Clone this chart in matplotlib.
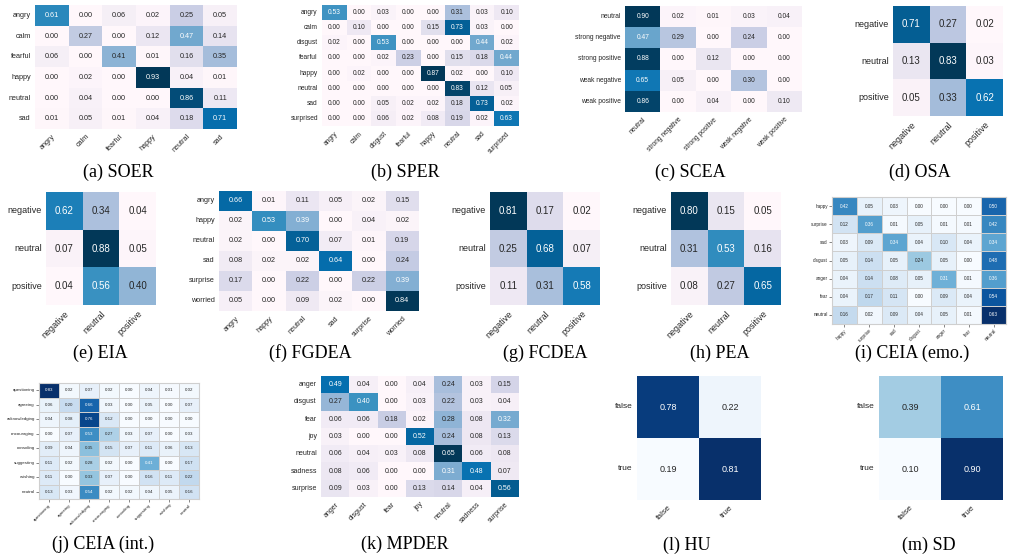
import numpy as np
import matplotlib
matplotlib.use("Agg")
import matplotlib.pyplot as plt
import seaborn as sns

plt.rcParams['font.family'] = ['Liberation Sans', 'DejaVu Sans']

# -----------------------------
# Data
# -----------------------------
soer_labels = ["angry", "calm", "fearful", "happy", "neutral", "sad"]
soer = [[0.61, 0.00, 0.06, 0.02, 0.25, 0.05],
        [0.00, 0.27, 0.00, 0.12, 0.47, 0.14],
        [0.06, 0.00, 0.41, 0.01, 0.16, 0.35],
        [0.00, 0.02, 0.00, 0.93, 0.04, 0.01],
        [0.00, 0.04, 0.00, 0.00, 0.86, 0.11],
        [0.01, 0.05, 0.01, 0.04, 0.18, 0.71]]

sper_labels = ["angry", "calm", "disgust", "fearful", "happy", "neutral", "sad", "surprised"]
sper = [[0.53, 0.00, 0.03, 0.00, 0.00, 0.31, 0.03, 0.10],
        [0.00, 0.10, 0.00, 0.00, 0.15, 0.73, 0.03, 0.00],
        [0.02, 0.00, 0.53, 0.00, 0.00, 0.00, 0.44, 0.02],
        [0.00, 0.00, 0.02, 0.23, 0.00, 0.15, 0.18, 0.44],
        [0.00, 0.02, 0.00, 0.00, 0.87, 0.02, 0.00, 0.10],
        [0.00, 0.00, 0.00, 0.00, 0.00, 0.83, 0.12, 0.05],
        [0.00, 0.00, 0.05, 0.02, 0.02, 0.18, 0.73, 0.02],
        [0.00, 0.00, 0.06, 0.02, 0.08, 0.19, 0.02, 0.63]]

scea_labels = ["neutral", "strong negative", "strong positive", "weak negative", "weak positive"]
scea = [[0.90, 0.02, 0.01, 0.03, 0.04],
        [0.47, 0.29, 0.00, 0.24, 0.00],
        [0.88, 0.00, 0.12, 0.00, 0.00],
        [0.65, 0.05, 0.00, 0.30, 0.00],
        [0.86, 0.00, 0.04, 0.00, 0.10]]

pol_labels = ["negative", "neutral", "positive"]
osa = [[0.71, 0.27, 0.02],
       [0.13, 0.83, 0.03],
       [0.05, 0.33, 0.62]]
eia = [[0.62, 0.34, 0.04],
       [0.07, 0.88, 0.05],
       [0.04, 0.56, 0.40]]
fcdea = [[0.81, 0.17, 0.02],
         [0.25, 0.68, 0.07],
         [0.11, 0.31, 0.58]]
pea = [[0.80, 0.15, 0.05],
       [0.31, 0.53, 0.16],
       [0.08, 0.27, 0.65]]

fgdea_labels = ["angry", "happy", "neutral", "sad", "surprise", "worried"]
fgdea = [[0.66, 0.01, 0.11, 0.05, 0.02, 0.15],
         [0.02, 0.53, 0.39, 0.00, 0.04, 0.02],
         [0.02, 0.00, 0.70, 0.07, 0.01, 0.19],
         [0.08, 0.02, 0.02, 0.64, 0.00, 0.24],
         [0.17, 0.00, 0.22, 0.00, 0.22, 0.39],
         [0.05, 0.00, 0.09, 0.02, 0.00, 0.84]]

ceia_emo_labels = ["happy", "surprise", "sad", "disgust", "anger", "fear", "neutral"]
ceia_emo = [[0.42, 0.05, 0.03, 0.00, 0.00, 0.00, 0.50],
            [0.12, 0.36, 0.01, 0.05, 0.01, 0.01, 0.42],
            [0.03, 0.09, 0.34, 0.04, 0.10, 0.04, 0.34],
            [0.05, 0.14, 0.05, 0.24, 0.05, 0.00, 0.48],
            [0.04, 0.14, 0.08, 0.05, 0.31, 0.01, 0.36],
            [0.04, 0.17, 0.11, 0.00, 0.09, 0.04, 0.54],
            [0.16, 0.02, 0.09, 0.04, 0.05, 0.01, 0.63]]

ceia_int_labels = ["questioning", "agreeing", "acknowledging", "encouraging",
                   "consoling", "suggesting", "wishing", "neutral"]
ceia_int = [[0.83, 0.02, 0.07, 0.02, 0.00, 0.04, 0.01, 0.02],
            [0.06, 0.20, 0.66, 0.03, 0.00, 0.05, 0.00, 0.07],
            [0.04, 0.08, 0.76, 0.12, 0.00, 0.00, 0.00, 0.00],
            [0.00, 0.07, 0.53, 0.27, 0.03, 0.07, 0.00, 0.03],
            [0.09, 0.04, 0.35, 0.15, 0.07, 0.11, 0.06, 0.13],
            [0.11, 0.02, 0.28, 0.02, 0.00, 0.41, 0.00, 0.17],
            [0.11, 0.00, 0.33, 0.07, 0.00, 0.16, 0.11, 0.22],
            [0.13, 0.03, 0.54, 0.02, 0.02, 0.04, 0.05, 0.16]]

mpder_labels = ["anger", "disgust", "fear", "joy", "neutral", "sadness", "surprise"]
mpder = [[0.49, 0.04, 0.00, 0.04, 0.24, 0.03, 0.15],
         [0.27, 0.40, 0.00, 0.03, 0.22, 0.03, 0.04],
         [0.06, 0.06, 0.18, 0.02, 0.28, 0.08, 0.32],
         [0.03, 0.00, 0.00, 0.52, 0.24, 0.08, 0.13],
         [0.06, 0.04, 0.03, 0.08, 0.65, 0.06, 0.08],
         [0.08, 0.06, 0.00, 0.00, 0.31, 0.48, 0.07],
         [0.09, 0.03, 0.00, 0.13, 0.14, 0.04, 0.56]]

bin_labels = ["false", "true"]
hu = [[0.78, 0.22],
      [0.19, 0.81]]
sd = [[0.39, 0.61],
      [0.10, 0.90]]

W, H = 1013, 559


# -----------------------------
# Helpers
# -----------------------------
def box(fig, x0, y0, x1, y1):
    """Add axes from pixel box (top-left origin)"""
    return fig.add_axes([x0 / W, 1 - y1 / H, (x1 - x0) / W, (y1 - y0) / H])


def heat(ax, mat, labels, cmap, fs, afs, grid=False, ticks=False):
    sns.heatmap(np.array(mat), ax=ax, cmap=cmap, annot=True, fmt=".2f", cbar=False,
                xticklabels=labels, yticklabels=labels,
                linewidths=0.6 if grid else 0, linecolor="#cfcfcf",
                annot_kws={"fontsize": afs})
    ax.set_xticklabels(labels, rotation=45, ha="right", rotation_mode="anchor",
                       fontsize=fs, color="#262626")
    ax.set_yticklabels(labels, rotation=0, fontsize=fs, color="#262626")
    if ticks:
        ax.tick_params(length=2, width=0.5, color="#555555", pad=1)
    else:
        ax.tick_params(length=0, pad=3)
    if grid:
        for s in ax.spines.values():
            s.set_visible(True)
            s.set_color("#cfcfcf")
            s.set_linewidth(0.8)


def caption(fig, x, y, s):
    fig.text(x / W, 1 - y / H, s, ha="center", va="center", fontsize=13,
             family="Liberation Serif")


# -----------------------------
# Plot
# -----------------------------
fig = plt.figure(figsize=(W / 100, H / 100), dpi=100)

heat(box(fig, 35, 5, 237, 129), soer, soer_labels, "PuBu", 5.2, 5.2)
heat(box(fig, 322, 5, 519, 126), sper, sper_labels, "PuBu", 4.8, 4.8)
heat(box(fig, 625, 6, 802, 112), scea, scea_labels, "PuBu", 4.8, 4.8)
heat(box(fig, 893, 6, 1003, 116), osa, pol_labels, "PuBu", 6.5, 7)

heat(box(fig, 46, 192, 156, 305), eia, pol_labels, "PuBu", 6.5, 7)
heat(box(fig, 219, 191, 419, 311), fgdea, fgdea_labels, "PuBu", 5.2, 5.2)
heat(box(fig, 490, 192, 600, 305), fcdea, pol_labels, "PuBu", 6.5, 7)
heat(box(fig, 671, 192, 781, 305), pea, pol_labels, "PuBu", 6.5, 7)
heat(box(fig, 832, 197, 1006, 324), ceia_emo, ceia_emo_labels, "Blues", 3.3, 3.3,
     grid=True, ticks=True)

heat(box(fig, 39, 383, 199, 499), ceia_int, ceia_int_labels, "Blues", 3.2, 3.2,
     grid=True, ticks=True)
heat(box(fig, 321, 376, 519, 497), mpder, mpder_labels, "PuBu", 5.0, 5.0)
heat(box(fig, 637, 376, 761, 500), hu, bin_labels, "Blues", 6, 6.5)
heat(box(fig, 879, 376, 1003, 500), sd, bin_labels, "Blues", 6, 6.5)

caption(fig, 118, 172, "(a) SOER")
caption(fig, 405, 172, "(b) SPER")
caption(fig, 690, 172, "(c) SCEA")
caption(fig, 920, 172, "(d) OSA")
caption(fig, 100, 353, "(e) EIA")
caption(fig, 310, 353, "(f) FGDEA")
caption(fig, 545, 353, "(g) FCDEA")
caption(fig, 720, 353, "(h) PEA")
caption(fig, 912, 353, "(i) CEIA (emo.)")
caption(fig, 103, 544, "(j) CEIA (int.)")
caption(fig, 405, 544, "(k) MPDER")
caption(fig, 687, 545, "(l) HU")
caption(fig, 929, 545, "(m) SD")

fig.savefig("out.png", dpi=100)
